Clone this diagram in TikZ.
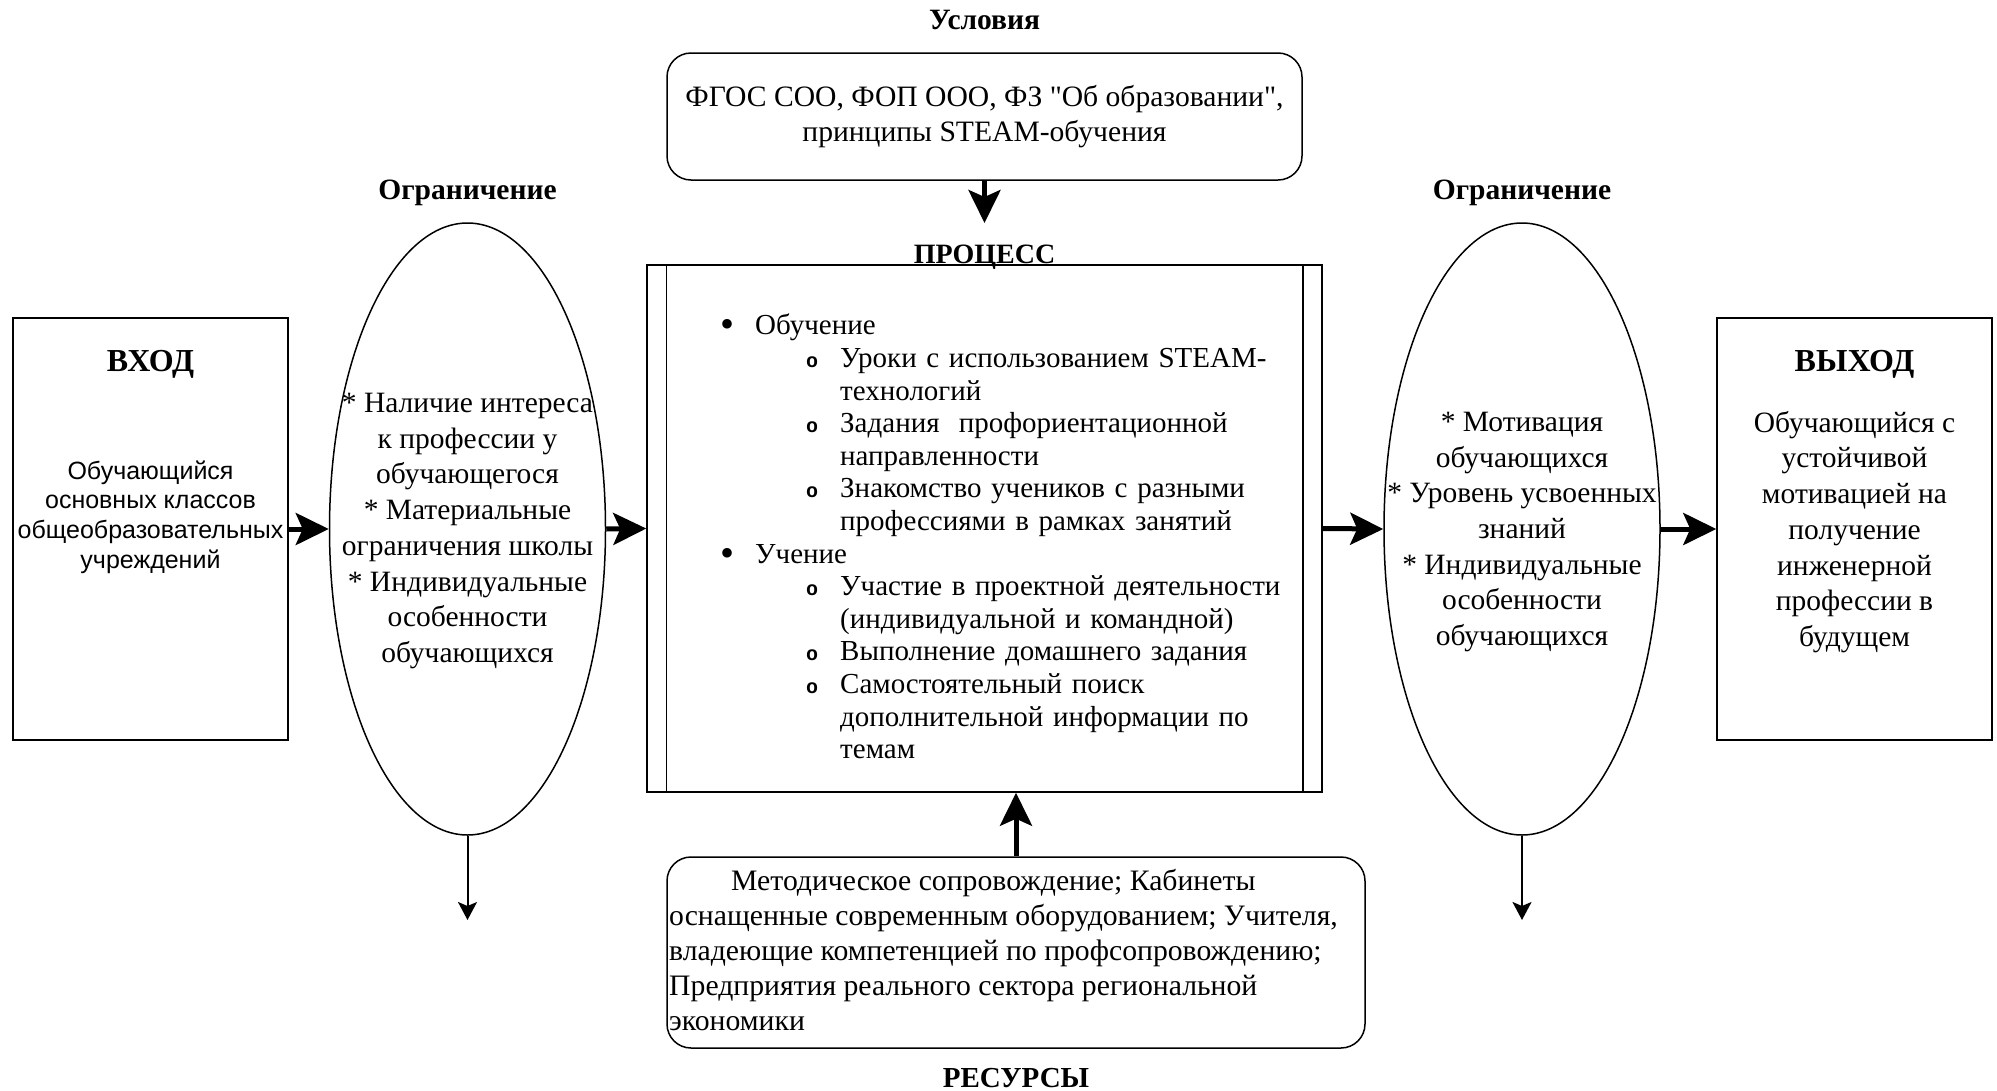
\documentclass[tikz,border=0pt]{standalone}
\usepackage{fontspec}
\setmainfont{Liberation Serif}
\newfontfamily\sansfont{Liberation Sans}
\newfontfamily\monofont{Liberation Mono}
\usetikzlibrary{arrows.meta,shapes.geometric}

\makeatletter
\def\@listI{\leftmargin\leftmargini\labelsep21pt\topsep0pt\partopsep0pt\parsep0pt\itemsep0pt}
\let\@listi\@listI
\def\@listii{\leftmargin\leftmarginii\labelsep22pt\topsep0pt\partopsep0pt\parsep0pt\itemsep0pt}
\makeatother
\setlength{\leftmargini}{55pt}
\setlength{\leftmarginii}{85pt}
\renewcommand{\labelitemi}{\raisebox{-3pt}{\fontsize{40}{40}\selectfont\textbullet}}
\renewcommand{\labelitemii}{{\fontsize{20}{20}\monofont\bfseries o}}

\begin{document}
\begin{tikzpicture}[x=1pt,y=-1pt,
stage/.style={draw,line width=1.5pt,minimum width=275pt,minimum height=422pt,inner sep=0pt},
limit/.style={draw,ellipse,line width=1.5pt,minimum width=276pt,minimum height=612pt,inner sep=0pt},
roundbox/.style={draw,rounded corners=24pt,line width=1.5pt,inner sep=0pt},
heading/.style={font=\bfseries\fontsize{29.5}{33}\selectfont},
txt/.style={align=center,font=\fontsize{29.5}{35.7}\selectfont},
flowarrow/.style={line width=5pt,-{Stealth[length=33pt,width=32pt,inset=7pt]}},
droparrow/.style={line width=2pt,-{Stealth[length=18pt,width=19pt,inset=4pt]}},]
\useasboundingbox (0,0) rectangle (1997,1090);

\node[stage] (in) at (150.5,529) {};
\node[heading,font=\bfseries\fontsize{32}{36}\selectfont] (in-head) at (150.5,364.5) {ВХОД};
\node[align=center,font=\sansfont\fontsize{25}{29.6}\selectfont] (in-text) at (150.5,517) {Обучающийся\\основных классов\\общеобразовательных\\учреждений};

\node[limit] (lim-a) at (467.5,529) {};
\node[heading] (lim-a-head) at (467.5,193) {Ограничение};
\node[txt] (lim-a-text) at (467.5,531) {* Наличие интереса\\к профессии у\\обучающегося\\* Материальные\\ограничения школы\\* Индивидуальные\\особенности\\обучающихся};
\coordinate (lim-a-out) at (467.5,920);

\node[roundbox,align=center,minimum width=635pt,minimum height=127pt,font=\fontsize{29.6}{34.5}\selectfont] (cond) at (984.5,116.5) {ФГОС СОО, ФОП ООО, ФЗ \textquotedbl Об образовании\textquotedbl,\\принципы STEAM-обучения};
\node[heading] (cond-head) at (984.5,20) {Условия};
\coordinate (proc-in) at (984.5,223);

\node[draw,line width=1.5pt,minimum width=675pt,minimum height=527pt,inner sep=0pt] (proc) at (984.5,528.5) {};
\draw[line width=1.5pt] ([xshift=20pt]proc.north west) -- ([xshift=20pt]proc.south west);
\draw[line width=1.5pt] ([xshift=-20pt]proc.north east) -- ([xshift=-20pt]proc.south east);
\node[heading,font=\bfseries\fontsize{28}{32}\selectfont,anchor=base] (proc-head) at (984.5,263) {ПРОЦЕСС};
\node[anchor=north west,inner sep=0pt,text width=640pt,font=\fontsize{29}{32.6}\selectfont] (proc-text) at (700,302) {%
\begin{itemize}
\item Обучение
  \begin{itemize}
  \item Уроки с использованием STEAM-\\технологий
  \item Задания~ профориентационной\\направленности
  \item Знакомство учеников с разными\\профессиями в рамках занятий
  \end{itemize}
\item Учение
  \begin{itemize}
  \item Участие в проектной деятельности\\(индивидуальной и командной)
  \item Выполнение домашнего задания
  \item Самостоятельный поиск\\дополнительной информации по\\темам
  \end{itemize}
\end{itemize}};

\node[roundbox,minimum width=698pt,minimum height=191pt] (res) at (1016,952.5) {};
\node[anchor=west,align=left,inner sep=0pt,font=\fontsize{29.7}{35}\selectfont] (res-text) at (669,950) {\hspace*{62pt}Методическое сопровождение; Кабинеты\\оснащенные современным оборудованием; Учителя,\\владеющие компетенцией по профсопровождению;\\Предприятия реального сектора региональной\\экономики};
\node[heading,font=\bfseries\fontsize{29}{32}\selectfont] (res-head) at (1016,1078) {РЕСУРСЫ};

\node[limit] (lim-b) at (1522,529) {};
\node[heading] (lim-b-head) at (1522,193) {Ограничение};
\node[txt] (lim-b-text) at (1522,532) {* Мотивация\\обучающихся\\* Уровень усвоенных\\знаний\\* Индивидуальные\\особенности\\обучающихся};
\coordinate (lim-b-out) at (1522,920);

\node[stage] (out) at (1854.5,529) {};
\node[heading,font=\bfseries\fontsize{32}{36}\selectfont] (out-head) at (1854.5,364.5) {ВЫХОД};
\node[txt] (out-text) at (1854.5,532) {Обучающийся с\\устойчивой\\мотивацией на\\получение\\инженерной\\профессии в\\будущем};

\draw[flowarrow] (in.east) -- (lim-a.west);
\draw[flowarrow] (lim-a.east) -- (proc.west);
\draw[flowarrow] (proc.east) -- (lim-b.west);
\draw[flowarrow] (lim-b.east) -- (out.west);
\draw[flowarrow] (cond.south) -- (proc-in);
\draw[flowarrow] (res.north) -- (res.north |- proc.south);
\draw[droparrow] (lim-a.south) -- (lim-a-out);
\draw[droparrow] (lim-b.south) -- (lim-b-out);
\end{tikzpicture}
\end{document}
